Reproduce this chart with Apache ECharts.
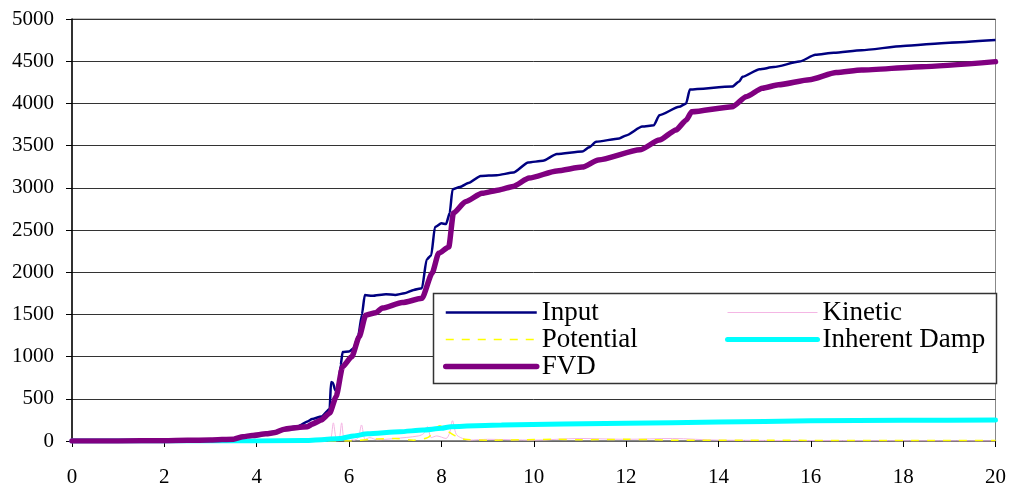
<!DOCTYPE html>
<html>
<head>
<meta charset="utf-8">
<script src="https://cdn.jsdelivr.net/npm/echarts@6/dist/echarts.min.js"></script>
<style>
html,body{margin:0;padding:0;background:#fff;}
#c{width:1009px;height:489px;}
</style>
</head>
<body>
<div id="c"></div>
<script>
// ---- data ----
var xTicks = [0, 2, 4, 6, 8, 10, 12, 14, 16, 18, 20];
var yTicks = [0, 500, 1000, 1500, 2000, 2500, 3000, 3500, 4000, 4500, 5000];

var inputX = [0,1,2,2.5,3,3.5,3.7,3.9,4.2,4.4,4.6,4.9,5.1,5.2,5.4,5.58,5.61,5.65,5.7,5.76,5.82,5.86,6.0,6.1,6.2,6.28,6.34,6.5,6.8,7.0,7.2,7.4,7.58,7.68,7.78,7.86,8.0,8.1,8.18,8.24,8.4,8.6,8.85,9.2,9.56,9.88,10.2,10.5,11.05,11.2,11.35,11.85,12.0,12.35,12.6,12.72,13.15,13.3,13.38,14.3,14.45,14.52,14.89,15.2,15.75,16.1,16.5,17.1,18,19,20];
var inputY = [0,0,3,8,13,25,55,70,90,105,150,175,230,260,290,380,700,690,600,620,900,1055,1060,1100,1250,1500,1730,1720,1740,1730,1750,1790,1810,2150,2200,2535,2580,2570,2700,2980,3010,3060,3140,3150,3180,3300,3320,3400,3430,3480,3545,3585,3620,3725,3740,3860,3960,4000,4165,4200,4260,4315,4405,4430,4495,4575,4600,4630,4680,4720,4750];

var kineticX = [0,5.5,5.6,5.66,5.72,5.78,5.84,5.9,6.0,6.1,6.2,6.27,6.35,6.45,6.6,7.0,7.5,7.62,7.7,7.78,7.9,8.1,8.18,8.24,8.32,8.42,8.6,9,10,11,12,13,14,20];
var kineticY = [0,0,20,215,30,20,215,20,40,10,40,190,20,40,15,30,60,90,170,40,60,30,100,240,80,40,10,20,10,30,20,30,10,0];

var potentialX = [0,6,6.5,7,7.4,7.7,7.85,7.96,8.1,8.3,8.5,9,10.5,11,12,12.6,13,20];
var potentialY = [0,0,20,30,10,40,120,180,130,60,20,10,20,15,20,15,10,5];

var dampX = [0,4,5,5.4,5.8,6.1,6.4,7.1,7.6,8.0,8.2,9.3,12,14,16,18,20];
var dampY = [0,0,5,15,30,60,85,110,130,150,170,190,210,225,240,245,250];

var fvdX = [0,1,2,2.5,3,3.5,3.7,3.9,4.2,4.4,4.6,4.9,5.1,5.2,5.4,5.58,5.72,5.86,6.06,6.22,6.36,6.58,6.72,7.15,7.58,7.8,7.94,8.16,8.26,8.52,8.88,9.25,9.55,9.9,10.5,11.05,11.4,12.3,12.72,13.08,13.3,13.42,14.3,14.6,14.95,15.3,15.97,16.55,17.1,18.4,20];
var fvdY = [0,0,3,8,12,22,50,65,85,100,140,160,170,200,250,330,525,880,1000,1235,1490,1520,1575,1640,1690,1990,2225,2300,2700,2835,2935,2975,3015,3115,3200,3245,3330,3450,3565,3685,3800,3900,3960,4080,4180,4220,4280,4365,4395,4435,4495];

function pairs(xs, ys) { return xs.map(function (x, i) { return [x, ys[i]]; }); }

var serif = 'Liberation Serif';
var chart = echarts.init(document.getElementById('c'), null, {renderer: 'canvas'});

chart.setOption({
  animation: false,
  backgroundColor: '#fff',
  grid: {left: 72, right: 12, top: 19, bottom: 48, show: true, borderColor: '#888', borderWidth: 1, containLabel: false},
  xAxis: {
    type: 'value', min: xTicks[0], max: xTicks[xTicks.length - 1], interval: 2,
    axisLine: {show: true, onZero: false, lineStyle: {color: '#777', width: 1.5}},
    axisTick: {show: true, inside: false, length: 6, lineStyle: {color: '#000'}},
    axisLabel: {margin: 26, fontFamily: serif, fontSize: 21, color: '#000',
      formatter: function (v) { return String(v); }},
    splitLine: {show: false}
  },
  yAxis: {
    type: 'value', min: yTicks[0], max: yTicks[yTicks.length - 1], interval: 500,
    axisLine: {show: true, lineStyle: {color: '#000', width: 1.5}},
    axisTick: {show: true, inside: false, length: 6, lineStyle: {color: '#000'}},
    axisLabel: {margin: 18, fontFamily: serif, fontSize: 21, color: '#000',
      formatter: function (v) { return String(v); }},
    splitLine: {show: true, lineStyle: {color: '#333', width: 1}}
  },
  graphic: [{
    type: 'rect', z: 50,
    shape: {x: 433.5, y: 293.5, width: 563, height: 90},
    style: {fill: '#fff', stroke: '#333', lineWidth: 1.5}
  }],
  legend: [{
    z: 60, orient: 'vertical', left: 443, top: 299, padding: 0, itemGap: 0,
    itemWidth: 91, itemHeight: 14, itemStyle: {opacity: 0},
    textStyle: {fontFamily: serif, fontSize: 27, lineHeight: 26, color: '#000'},
    data: [
      {name: 'Input', lineStyle: {width: 2.5}},
      {name: 'Potential', lineStyle: {width: 1.5, type: [8, 8]}},
      {name: 'FVD', lineStyle: {width: 5.5}}
    ]
  }, {
    z: 60, orient: 'vertical', left: 725, top: 299, padding: 0, itemGap: 0,
    itemWidth: 90, itemHeight: 14, itemStyle: {opacity: 0},
    textStyle: {fontFamily: serif, fontSize: 27, lineHeight: 26, color: '#000'},
    data: [
      {name: 'Kinetic', lineStyle: {width: 1}},
      {name: 'Inherent Damp', lineStyle: {width: 5}}
    ]
  }],
  series: [
    {name: 'Input', type: 'line', data: pairs(inputX, inputY), symbol: 'none', z: 3,
     smooth: 0.2, smoothMonotone: 'x',
     lineStyle: {color: '#000080', width: 2.5}, itemStyle: {color: '#000080'}},
    {name: 'Kinetic', type: 'line', data: pairs(kineticX, kineticY), symbol: 'none', z: 2, smooth: 0.3,
     lineStyle: {color: '#f4b6e4', width: 1}, itemStyle: {color: '#f4b6e4'}},
    {name: 'Potential', type: 'line', data: pairs(potentialX, potentialY), symbol: 'none', z: 2, smooth: 0.3,
     lineStyle: {color: '#ffff00', width: 1.5, type: [8, 8]}, itemStyle: {color: '#ffff00'}},
    {name: 'Inherent Damp', type: 'line', data: pairs(dampX, dampY), symbol: 'none', z: 4,
     smooth: 0.2, smoothMonotone: 'x',
     lineStyle: {color: '#00ffff', width: 5, cap: 'round'}, itemStyle: {color: '#00ffff'}},
    {name: 'FVD', type: 'line', data: pairs(fvdX, fvdY), symbol: 'none', z: 5,
     smooth: 0.2, smoothMonotone: 'x',
     lineStyle: {color: '#800080', width: 5.5, cap: 'round', join: 'round'}, itemStyle: {color: '#800080'}}
  ]
});
</script>
</body>
</html>
